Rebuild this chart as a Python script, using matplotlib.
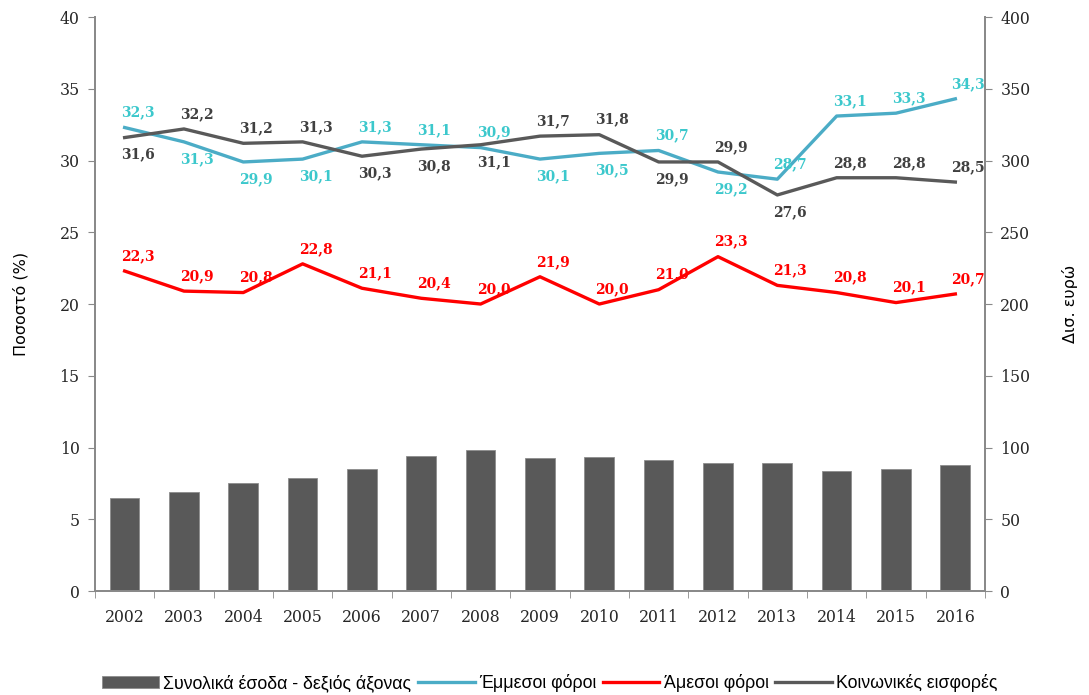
import numpy as np
import matplotlib
matplotlib.use("Agg")
import matplotlib.pyplot as plt
from matplotlib import font_manager

# Δεδομένα
years = ['2002', '2003', '2004', '2005', '2006', '2007', '2008', '2009',
         '2010', '2011', '2012', '2013', '2014', '2015', '2016']
total_revenue = [64.8, 69.2, 75.0, 78.5, 85.0, 94.0, 98.4, 92.6,
                 93.4, 91.2, 89.1, 89.1, 83.6, 85.0, 87.7]
indirect = [32.3, 31.3, 29.9, 30.1, 31.3, 31.1, 30.9, 30.1,
            30.5, 30.7, 29.2, 28.7, 33.1, 33.3, 34.3]
direct = [22.3, 20.9, 20.8, 22.8, 21.1, 20.4, 20.0, 21.9,
          20.0, 21.0, 23.3, 21.3, 20.8, 20.1, 20.7]
social = [31.6, 32.2, 31.2, 31.3, 30.3, 30.8, 31.1, 31.7,
          31.8, 29.9, 29.9, 27.6, 28.8, 28.8, 28.5]

# θέση ετικετών: a = πάνω, b = κάτω
indirect_pos = 'abbbaaabbabaaaa'
social_pos = 'baaabbbaababaaa'
direct_pos = 'aaaaaaaaaaaaaaa'


def pick_font(names):
    for n in names:
        try:
            font_manager.findfont(n, fallback_to_default=False)
            return n
        except Exception:
            pass
    return 'DejaVu Sans'


legend_font = pick_font(['Liberation Sans Narrow', 'Liberation Sans'])

c_bar = '#595959'
c_ind = '#4bacc6'
c_ind_txt = '#3cc8cc'
c_dir = '#ff0000'
c_soc = '#595959'
c_soc_txt = '#404040'
c_axis = '#898989'

fig = plt.figure(figsize=(10.89, 6.95), dpi=100)
ax = fig.add_axes([0.0872, 0.1496, 0.8173, 0.8259])
ax2 = ax.twinx()

x = np.arange(len(years))

# ράβδοι στον δεξιό άξονα
ax2.bar(x, total_revenue, width=0.5, color=c_bar, edgecolor='#8c8c8c', linewidth=0.6,
        zorder=1, label='Συνολικά έσοδα - δεξιός άξονας')
ax2.set_ylim(0, 400)
ax2.set_yticks(np.arange(0, 401, 50))

# γραμμές στον αριστερό άξονα (πάνω από τις ράβδους)
ax.set_zorder(ax2.get_zorder() + 1)
ax.patch.set_visible(False)
l1, = ax.plot(x, indirect, color=c_ind, lw=2.4, label='Έμμεσοι φόροι')
l2, = ax.plot(x, direct, color=c_dir, lw=2.4, label='Άμεσοι φόροι')
l3, = ax.plot(x, social, color=c_soc, lw=2.4, label='Κοινωνικές εισφορές')
ax.set_ylim(0, 40)
ax.set_yticks(np.arange(0, 41, 5))
ax.set_xlim(-0.5, len(years) - 0.5)


def fmt(v):
    return f'{v:.1f}'.replace('.', ',')


def add_labels(vals, pos, color):
    for xi, v, p in zip(x, vals, pos):
        dy = 15 if p == 'a' else -17
        ax.annotate(fmt(v), (xi, v), xytext=(13, dy), textcoords='offset pixels',
                    ha='center', va='center', color=color, fontsize=10,
                    fontweight='bold', family='DejaVu Serif', zorder=5)


add_labels(indirect, indirect_pos, c_ind_txt)
add_labels(social, social_pos, c_soc_txt)
add_labels(direct, direct_pos, c_dir)

# άξονες
ax.set_xticks(x)
ax.set_xticklabels(years)
ax.set_xticks(np.arange(-0.5, len(years), 1), minor=True)
ax.tick_params(axis='x', which='major', length=0, pad=13)
ax.tick_params(axis='x', which='minor', length=5, color=c_axis)
ax.tick_params(axis='y', length=5, color=c_axis, pad=6)
ax2.tick_params(axis='y', length=5, color=c_axis, pad=6)
for a in (ax, ax2):
    for lab in a.get_xticklabels() + a.get_yticklabels():
        lab.set_family('DejaVu Serif')
        lab.set_fontsize(11.3)
        lab.set_color('#262626')
    a.spines['top'].set_visible(False)
    for s in ('left', 'right', 'bottom'):
        a.spines[s].set_color(c_axis)
        a.spines[s].set_linewidth(1.3)

ax.set_ylabel('Ποσοστό (%)', fontsize=11.5, family='DejaVu Sans', labelpad=22)
ax2.set_ylabel('Δισ. ευρώ', fontsize=11.5, family='DejaVu Sans', rotation=90, labelpad=23)

bars_handle = ax2.containers[0]
fig.legend([bars_handle, l1, l2, l3],
           ['Συνολικά έσοδα - δεξιός άξονας', 'Έμμεσοι φόροι', 'Άμεσοι φόροι', 'Κοινωνικές εισφορές'],
           loc='center', bbox_to_anchor=(0.505, 0.017), ncol=4, frameon=False,
           prop={'family': legend_font, 'size': 12.8}, handlelength=3.2,
           handletextpad=0.25, columnspacing=0.35)

fig.savefig('out.png', dpi=100)
